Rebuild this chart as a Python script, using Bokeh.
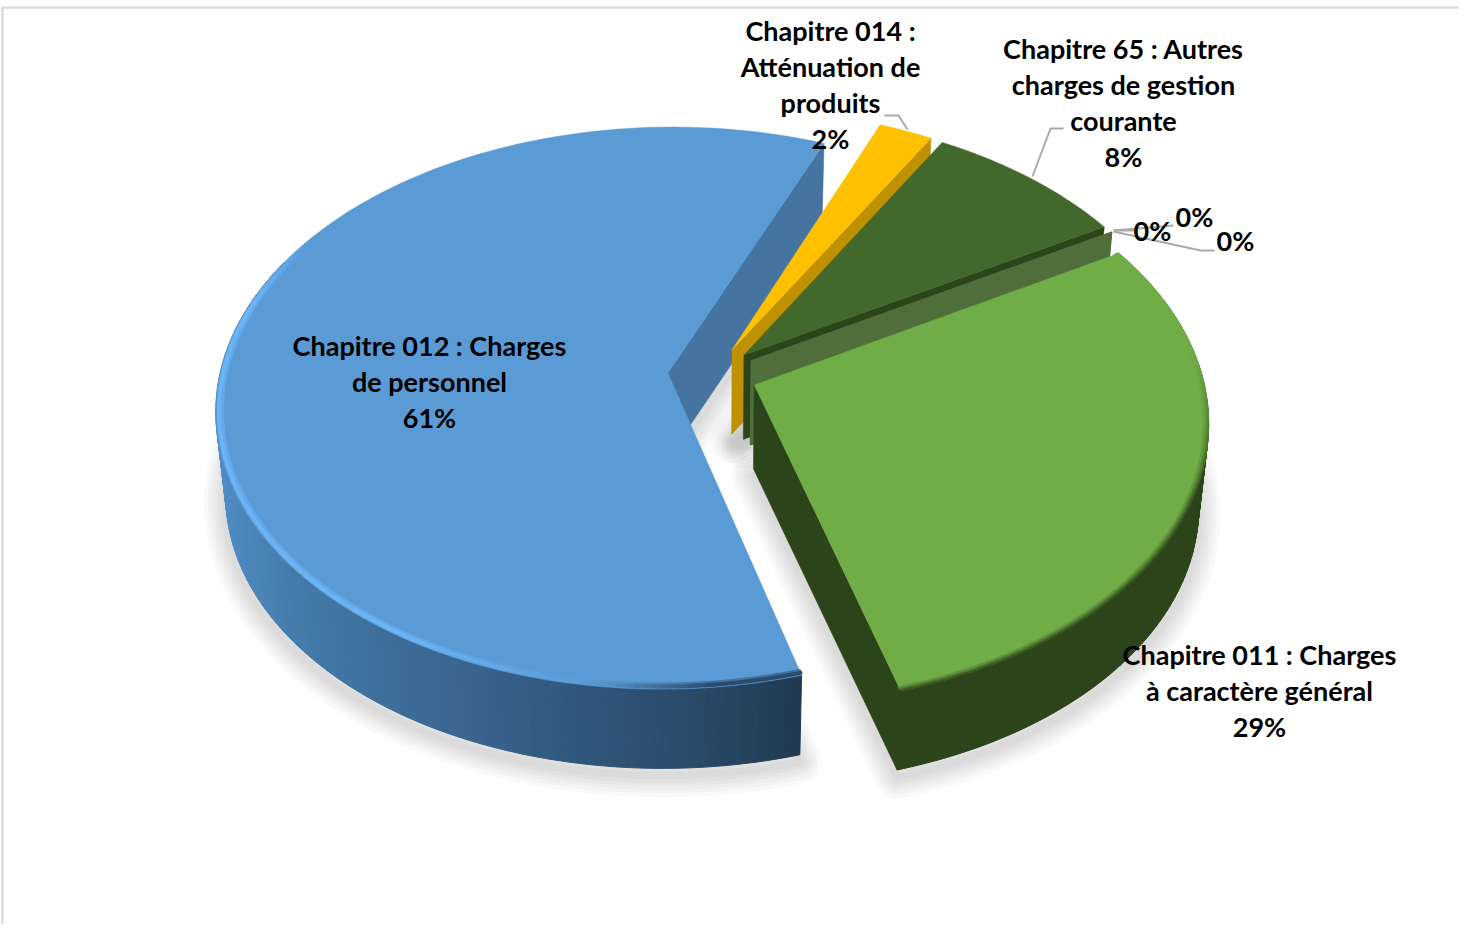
import numpy as np
from bokeh.plotting import figure
from bokeh.models import Range1d
from bokeh.embed import file_html
from bokeh.resources import INLINE
from bokeh.core.properties import value

# ---- data (estimated shares, clockwise from the 011 slice) ----
categories = ["Chapitre 011 : Charges à caractère général",
              "Chapitre 012 : Charges de personnel",
              "Chapitre 014 : Atténuation de produits",
              "Chapitre 65 : Autres charges de gestion courante"]
shares = [28.9, 60.6, 2.2, 8.3]
zero_shares = [0.0, 0.0, 0.0]
pct_labels = ["29%", "61%", "2%", "8%"]
zero_labels = ["0%", "0%", "0%"]

# ---- styles ----
START = 60.0
VX, VY, R, S, K, EXPL, DEPTH = 720.0, 382.0, 448.0, 277.0, 0.125, 0.1, 84.0
TOP = {"g": "#70ad47", "b": "#5b9bd5", "y": "#ffc000", "d": "#43682b"}
WALL = {"g": "#2c4419", "y": "#bf9000", "d": "#2c4419", "z": "#4f6e3a", "binner": "#44749f"}
TXT = "#000000"
FONT = "Lato"
FS = "27px"


def hex2(c):
    return np.array([int(c[i:i + 2], 16) for i in (1, 3, 5)], float)


def mix(a, b, t):
    t = min(max(t, 0.0), 1.0)
    m = hex2(a) * (1 - t) + hex2(b) * t
    return "#%02x%02x%02x" % tuple(int(round(v)) for v in m)


def project(ox, oz, r, deg, bottom=False):
    th = np.radians(deg)
    X = ox + r * np.sin(th)
    Z = oz + r * np.cos(th)
    D = 1 + K * Z
    x = VX + R * X / D
    y = VY - S * Z / D
    if bottom:
        x = VX + 0.98 * (x - VX)
        y = VY + DEPTH + 0.985 * (y - VY)
    return x, y


# slices in clockwise order from START
acc = START
slices = {}
for key, sh in zip(["g", "b", "y", "d"], shares):
    a0 = acc
    a1 = acc + sh * 3.6
    mid = np.radians((a0 + a1) / 2)
    slices[key] = dict(a0=a0, a1=a1, ox=EXPL * np.sin(mid), oz=EXPL * np.cos(mid))
    acc = a1
zth = np.radians(START + sum(zero_shares))
zero = dict(ox=EXPL * np.sin(zth), oz=EXPL * np.cos(zth))


def arc(sl, r=1.0, bottom=False, step=1.0):
    n = max(2, int(abs(sl["a1"] - sl["a0"]) / step) + 1)
    ang = np.linspace(sl["a0"], sl["a1"], n)
    return project(sl["ox"], sl["oz"], r, ang, bottom), ang


def sector(sl, bottom=False):
    (x, y), _ = arc(sl, bottom=bottom)
    cx, cy = project(sl["ox"], sl["oz"], 0.0, 0.0, bottom)
    return [cx] + list(x), [cy] + list(y)


def side(sl, deg, color):
    cx, cy = project(sl["ox"], sl["oz"], 0.0, 0.0)
    cxb, cyb = project(sl["ox"], sl["oz"], 0.0, 0.0, True)
    rx, ry = project(sl["ox"], sl["oz"], 1.0, deg)
    rxb, ryb = project(sl["ox"], sl["oz"], 1.0, deg, True)
    p.patch([cx, rx, rxb, cxb], [cy, ry, ryb, cyb], fill_color=color, line_color=color, line_width=0.5)


def outer_wall(sl, colorfn):
    (xt, yt), ang = arc(sl)
    (xb, yb), _ = arc(sl, bottom=True)
    xs, ys, cs = [], [], []
    for i in range(len(ang) - 1):
        xs.append([xt[i], xt[i + 1], xb[i + 1], xb[i]])
        ys.append([yt[i], yt[i + 1], yb[i + 1], yb[i]])
        cs.append(colorfn((xt[i] + xt[i + 1]) / 2))
    p.patches(xs, ys, fill_color=cs, line_color=cs, line_width=1)


def rim(sl, r, lw, colorfn):
    (x, y), ang = arc(sl, r=r)
    xs = [[x[i], x[i + 1]] for i in range(len(x) - 1)]
    ys = [[y[i], y[i + 1]] for i in range(len(y) - 1)]
    cs = [colorfn(x[i], ang[i]) for i in range(len(x) - 1)]
    p.multi_line(xs, ys, line_color=cs, line_width=lw, line_cap="round")


p = figure(width=1459, height=924, output_backend="svg", toolbar_location=None,
           x_range=Range1d(8, 1467), y_range=Range1d(932, 8),
           min_border=0, min_border_left=0, min_border_right=0, min_border_top=0, min_border_bottom=0,
           background_fill_color="#ffffff", border_fill_color="#ffffff", outline_line_color=None)
p.axis.visible = False
p.grid.visible = False

# chart frame
p.line([10, 10, 1467], [932, 15, 15], line_color="#dcdcdc", line_width=2.5)

# soft shadows
for key in ["y", "d", "b", "g"]:
    bx, by = sector(slices[key], bottom=True)
    by = [v + 7 for v in by]
    for w in (44, 36, 29, 22, 15, 8):
        p.patch(bx, by, fill_color=None, line_color="#000000", line_alpha=0.024, line_width=w, line_join="round")

# blue slice
BLUE_STOPS = [(225, "#4f8cc4"), (300, "#447ba9"), (420, "#3c6a96"), (560, "#335a80"), (700, "#2a4a69"), (812, "#203950")]


def blue_wall(x):
    xs = [s[0] for s in BLUE_STOPS]
    for i in range(len(xs) - 1):
        if x <= xs[i + 1]:
            return mix(BLUE_STOPS[i][1], BLUE_STOPS[i + 1][1], (x - xs[i]) / (xs[i + 1] - xs[i]))
    return BLUE_STOPS[-1][1]


b = slices["b"]
side(b, b["a1"], WALL["binner"])
outer_wall(dict(b, a1=295), blue_wall)
bx, by = sector(b)
p.patch(bx, by, fill_color=TOP["b"], line_color=TOP["b"], line_width=0.5)


def blue_rim_outer(x, a):
    # highlight on the left, a dark soft edge towards the front
    if a > 285:
        return mix("#6cb5f5", TOP["b"], (a - 285) / 15)
    if x < 400:
        return "#6cb5f5"
    if x < 600:
        return mix("#6cb5f5", TOP["b"], (x - 400) / 200)
    return mix(TOP["b"], "#2b4c6d", (x - 600) / 120)


def blue_rim_inner(x, a):
    if a > 285:
        return mix("#64aaea", TOP["b"], (a - 285) / 15)
    if x < 400:
        return "#64aaea"
    if x < 600:
        return mix("#64aaea", TOP["b"], (x - 400) / 200)
    return mix(TOP["b"], "#43719c", (x - 600) / 120)


rim(dict(b, a1=300), 0.986, 3, blue_rim_inner)
rim(dict(b, a1=300), 0.993, 4, blue_rim_outer)

# yellow slice
y = slices["y"]
side(y, y["a1"], WALL["y"])
yx, yy = sector(y)
p.patch(yx, yy, fill_color=TOP["y"], line_color=TOP["y"], line_width=0.5)

# dark green slice
d = slices["d"]
side(d, d["a1"], WALL["d"])
dx, dy = sector(d)
p.patch(dx, dy, fill_color=TOP["d"], line_color=TOP["d"], line_width=0.5)

# zero slices: only their cut wall shows
for _z in zero_shares:
    side(zero, START, WALL["z"])

# light green slice
g = slices["g"]
outer_wall(g, lambda x: WALL["g"])
side(g, g["a1"], WALL["g"])
gx, gy = sector(g)
p.patch(gx, gy, fill_color=TOP["g"], line_color=TOP["g"], line_width=0.5)
for r, t, lw in ((0.990, 0.22, 2.5), (0.995, 0.5, 2.5), (0.999, 0.8, 2)):
    rim(g, r, lw, lambda x, a, t=t: mix(TOP["g"], WALL["g"], t * min(1.0, max(0.0, (a - START - 22) / 30))))

# leader lines
LEADER = "#a9a9a9"
leaders_x = [[892, 906, 915], [1071, 1058, 1040], [1121, 1181], [1121, 1145], [1121, 1208, 1222]]
leaders_y = [[123, 123, 137], [136, 136, 184], [238, 233], [238, 238], [239, 258, 258]]
p.multi_line(leaders_x, leaders_y, line_color=LEADER, line_width=2)

# labels
label_blocks = [
    (437, [353, 389, 425], ["Chapitre 012 : Charges", "de personnel", pct_labels[1]]),
    (838, [38, 74, 110, 146], ["Chapitre 014 :", "Atténuation de", "produits", pct_labels[2]]),
    (1131, [56, 92, 128, 164], ["Chapitre 65 : Autres", "charges de gestion", "courante", pct_labels[3]]),
    (1267, [662, 698, 734], ["Chapitre 011 : Charges", "à caractère général", pct_labels[0]]),
    (1160, [238], [zero_labels[0]]),
    (1202, [224], [zero_labels[1]]),
    (1243, [248], [zero_labels[2]]),
]
for cx, ys, lines in label_blocks:
    p.text([cx] * len(lines), ys, text=lines, text_align="center", text_baseline="middle",
           text_color=TXT, text_font=value(FONT), text_font_size=value(FS), text_font_style="bold")

open("out.html", "w").write(file_html(p, INLINE))
